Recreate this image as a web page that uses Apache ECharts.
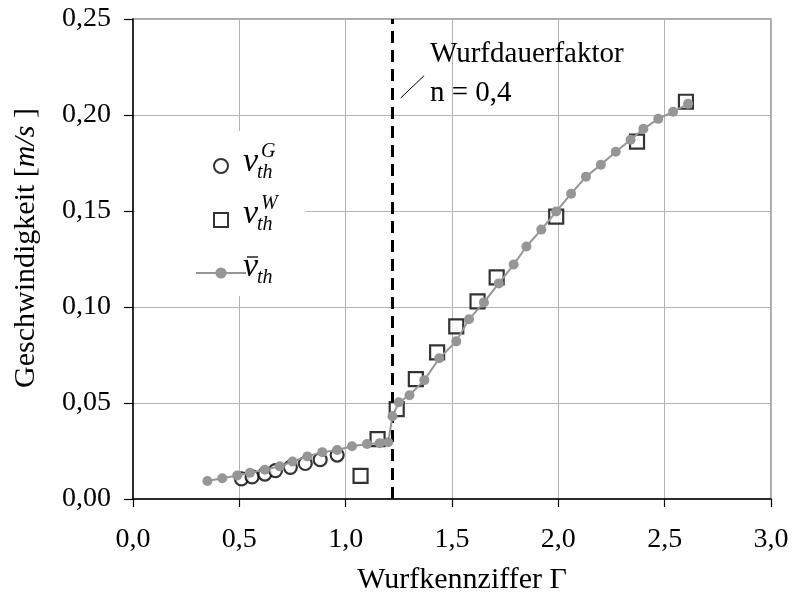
<!DOCTYPE html>
<html>
<head>
<meta charset="utf-8">
<script src="https://cdn.jsdelivr.net/npm/echarts@6/dist/echarts.min.js"></script>
<style>
  html, body { margin: 0; padding: 0; background: #fff; }
  #chart { width: 792px; height: 600px; }
</style>
</head>
<body>
<div id="chart"></div>
<script>
// averaged theoretical velocity over the Wurfkennziffer
const gammaMittel = [0.35, 0.42, 0.49, 0.55, 0.62, 0.69, 0.75, 0.82, 0.89, 0.96, 1.03, 1.10, 1.16, 1.20,
  1.22, 1.25, 1.30, 1.37, 1.44, 1.52, 1.58, 1.65, 1.72, 1.79, 1.85, 1.92, 1.99, 2.06, 2.13, 2.20,
  2.27, 2.34, 2.40, 2.47, 2.54, 2.61];
const vMittel = [0.0094, 0.0108, 0.0122, 0.0137, 0.0152, 0.0170, 0.0195, 0.0222, 0.0244, 0.0255, 0.0275, 0.0286, 0.0291, 0.0296,
  0.0431, 0.0504, 0.0540, 0.0619, 0.0733, 0.0821, 0.0936, 0.1024, 0.1123, 0.1221, 0.1315, 0.1403, 0.1497, 0.1590, 0.1679, 0.1741,
  0.1809, 0.1871, 0.1928, 0.1980, 0.2017, 0.2058];

// sliding regime (G)
const gammaG = [0.51, 0.56, 0.62, 0.67, 0.74, 0.81, 0.88, 0.96];
const vG = [0.0105, 0.0115, 0.0130, 0.0148, 0.0165, 0.0185, 0.0205, 0.0229];

// throwing regime (W)
const gammaW = [1.07, 1.15, 1.24, 1.33, 1.43, 1.52, 1.62, 1.71, 1.99, 2.37, 2.60];
const vW = [0.0120, 0.0312, 0.0468, 0.0624, 0.0764, 0.0899, 0.1029, 0.1154, 0.1471, 0.1861, 0.2069];

// boundary of the throwing regime (Wurfdauerfaktor n = 0,4)
const gammaGrenze = 1.22;
const annotationLines = ['Wurfdauerfaktor', 'n = 0,4'];

const serif = 'Liberation Serif';
const zip = (xs, ys) => xs.map((x, i) => [x, ys[i]]);
const comma = (v, d) => v.toFixed(d).replace('.', ',');

const chart = echarts.init(document.getElementById('chart'), null, { renderer: 'canvas' });

// italic text placed by its baseline
const mathText = (str, x, baseline, size) => ({
  type: 'text', x: x, y: baseline - 0.3 * size, z: 6,
  style: { text: str, font: 'italic ' + size + 'px "' + serif + '"', fill: '#000', verticalAlign: 'middle', align: 'left' }
});

const legendLabel = (baseline, sup, bar) => {
  const els = [
    mathText('v', 243, baseline, 34),
    mathText('th', 257, baseline + 7, 20)
  ];
  if (sup) els.push(mathText(sup, 261, baseline - 14, 20));
  if (bar) {
    els.push({ type: 'line', z: 6, shape: { x1: 247, y1: baseline - 20, x2: 258, y2: baseline - 20 },
      style: { stroke: '#000', lineWidth: 1.3 } });
  }
  return els;
};

const squarePath = 'path://M0,0H10V10H0Z';

chart.setOption({
  animation: false,
  backgroundColor: '#fff',
  grid: {
    left: 133, right: 21, top: 19, bottom: 100,
    show: true, borderColor: '#8c8c8c', borderWidth: 1.5, backgroundColor: 'transparent'
  },
  xAxis: {
    type: 'value', min: 0, max: 3, interval: 0.5,
    name: 'Wurfkennziffer Γ', nameLocation: 'middle', nameGap: 66,
    nameTextStyle: { fontFamily: serif, fontSize: 30, color: '#000', padding: [0, 0, 0, 20] },
    axisLine: { onZero: false, lineStyle: { color: '#000', width: 1.5 } },
    axisTick: { show: true, length: 8, lineStyle: { color: '#000', width: 1.2 } },
    axisLabel: { margin: 27, fontFamily: serif, fontSize: 28, color: '#000', formatter: v => comma(v, 1) },
    splitLine: { show: true, lineStyle: { color: '#b4b4b4', width: 1 } }
  },
  yAxis: {
    type: 'value', min: 0, max: 0.25, interval: 0.05,
    name: '{a|Geschwindigkeit [}{i|m/s}{a| ]}', nameLocation: 'middle', nameGap: 92, nameRotate: 90,
    nameTextStyle: {
      padding: [0, 0, 0, 22],
      rich: {
        a: { fontFamily: serif, fontSize: 30, color: '#000' },
        i: { fontFamily: serif, fontSize: 30, fontStyle: 'italic', color: '#000' }
      }
    },
    axisLine: { onZero: false, lineStyle: { color: '#000', width: 1.5 } },
    axisTick: { show: true, length: 9, lineStyle: { color: '#000', width: 1.2 } },
    axisLabel: { margin: 22, fontFamily: serif, fontSize: 28, color: '#000', formatter: v => comma(v, 2) },
    splitLine: { show: true, lineStyle: { color: '#b4b4b4', width: 1 } }
  },
  legend: {
    orient: 'vertical', left: 190, top: 153,
    itemWidth: 50, itemHeight: 14, itemGap: 38,
    formatter: () => '',
    selectedMode: false,
    data: ['G', 'W', 'mittel']
  },
  graphic: [
    // white legend box that hides the grid lines behind the legend
    { type: 'rect', z: 1, shape: { x: 135, y: 131, width: 170, height: 165 }, style: { fill: '#fff' } },
    ...legendLabel(172, 'G', false),
    ...legendLabel(224, 'W', false),
    ...legendLabel(277, null, true),
    { type: 'text', x: 430, y: 54.5, z: 6, style: { text: annotationLines[0], font: '29px "' + serif + '"', fill: '#000', verticalAlign: 'middle' } },
    { type: 'text', x: 430, y: 93.5, z: 6, style: { text: annotationLines[1], font: '29px "' + serif + '"', fill: '#000', verticalAlign: 'middle' } }
  ],
  series: [
    {
      name: 'G', type: 'scatter', data: zip(gammaG, vG), z: 3,
      symbol: 'circle', symbolSize: 13,
      itemStyle: { color: '#fff', borderColor: '#000', borderWidth: 2.2 }
    },
    {
      name: 'W', type: 'scatter', data: zip(gammaW, vW), z: 3,
      symbol: squarePath, symbolSize: 14, symbolKeepAspect: true,
      itemStyle: { color: '#fff', borderColor: '#000', borderWidth: 2.2 },
      markLine: {
        silent: true, symbol: 'none', z: 2,
        label: { show: false },
        data: [
          { xAxis: gammaGrenze, lineStyle: { color: '#000', width: 3, type: [12, 7] } },
          [
            { coord: [1.259, 0.2089], lineStyle: { color: '#000', width: 1, type: 'solid' } },
            { coord: [1.369, 0.2205] }
          ]
        ]
      }
    },
    {
      name: 'mittel', type: 'line', data: zip(gammaMittel, vMittel), z: 5,
      symbol: 'circle', symbolSize: 10, showSymbol: true,
      lineStyle: { color: '#969696', width: 2 },
      itemStyle: { color: '#969696' }
    }
  ]
});
</script>
</body>
</html>
